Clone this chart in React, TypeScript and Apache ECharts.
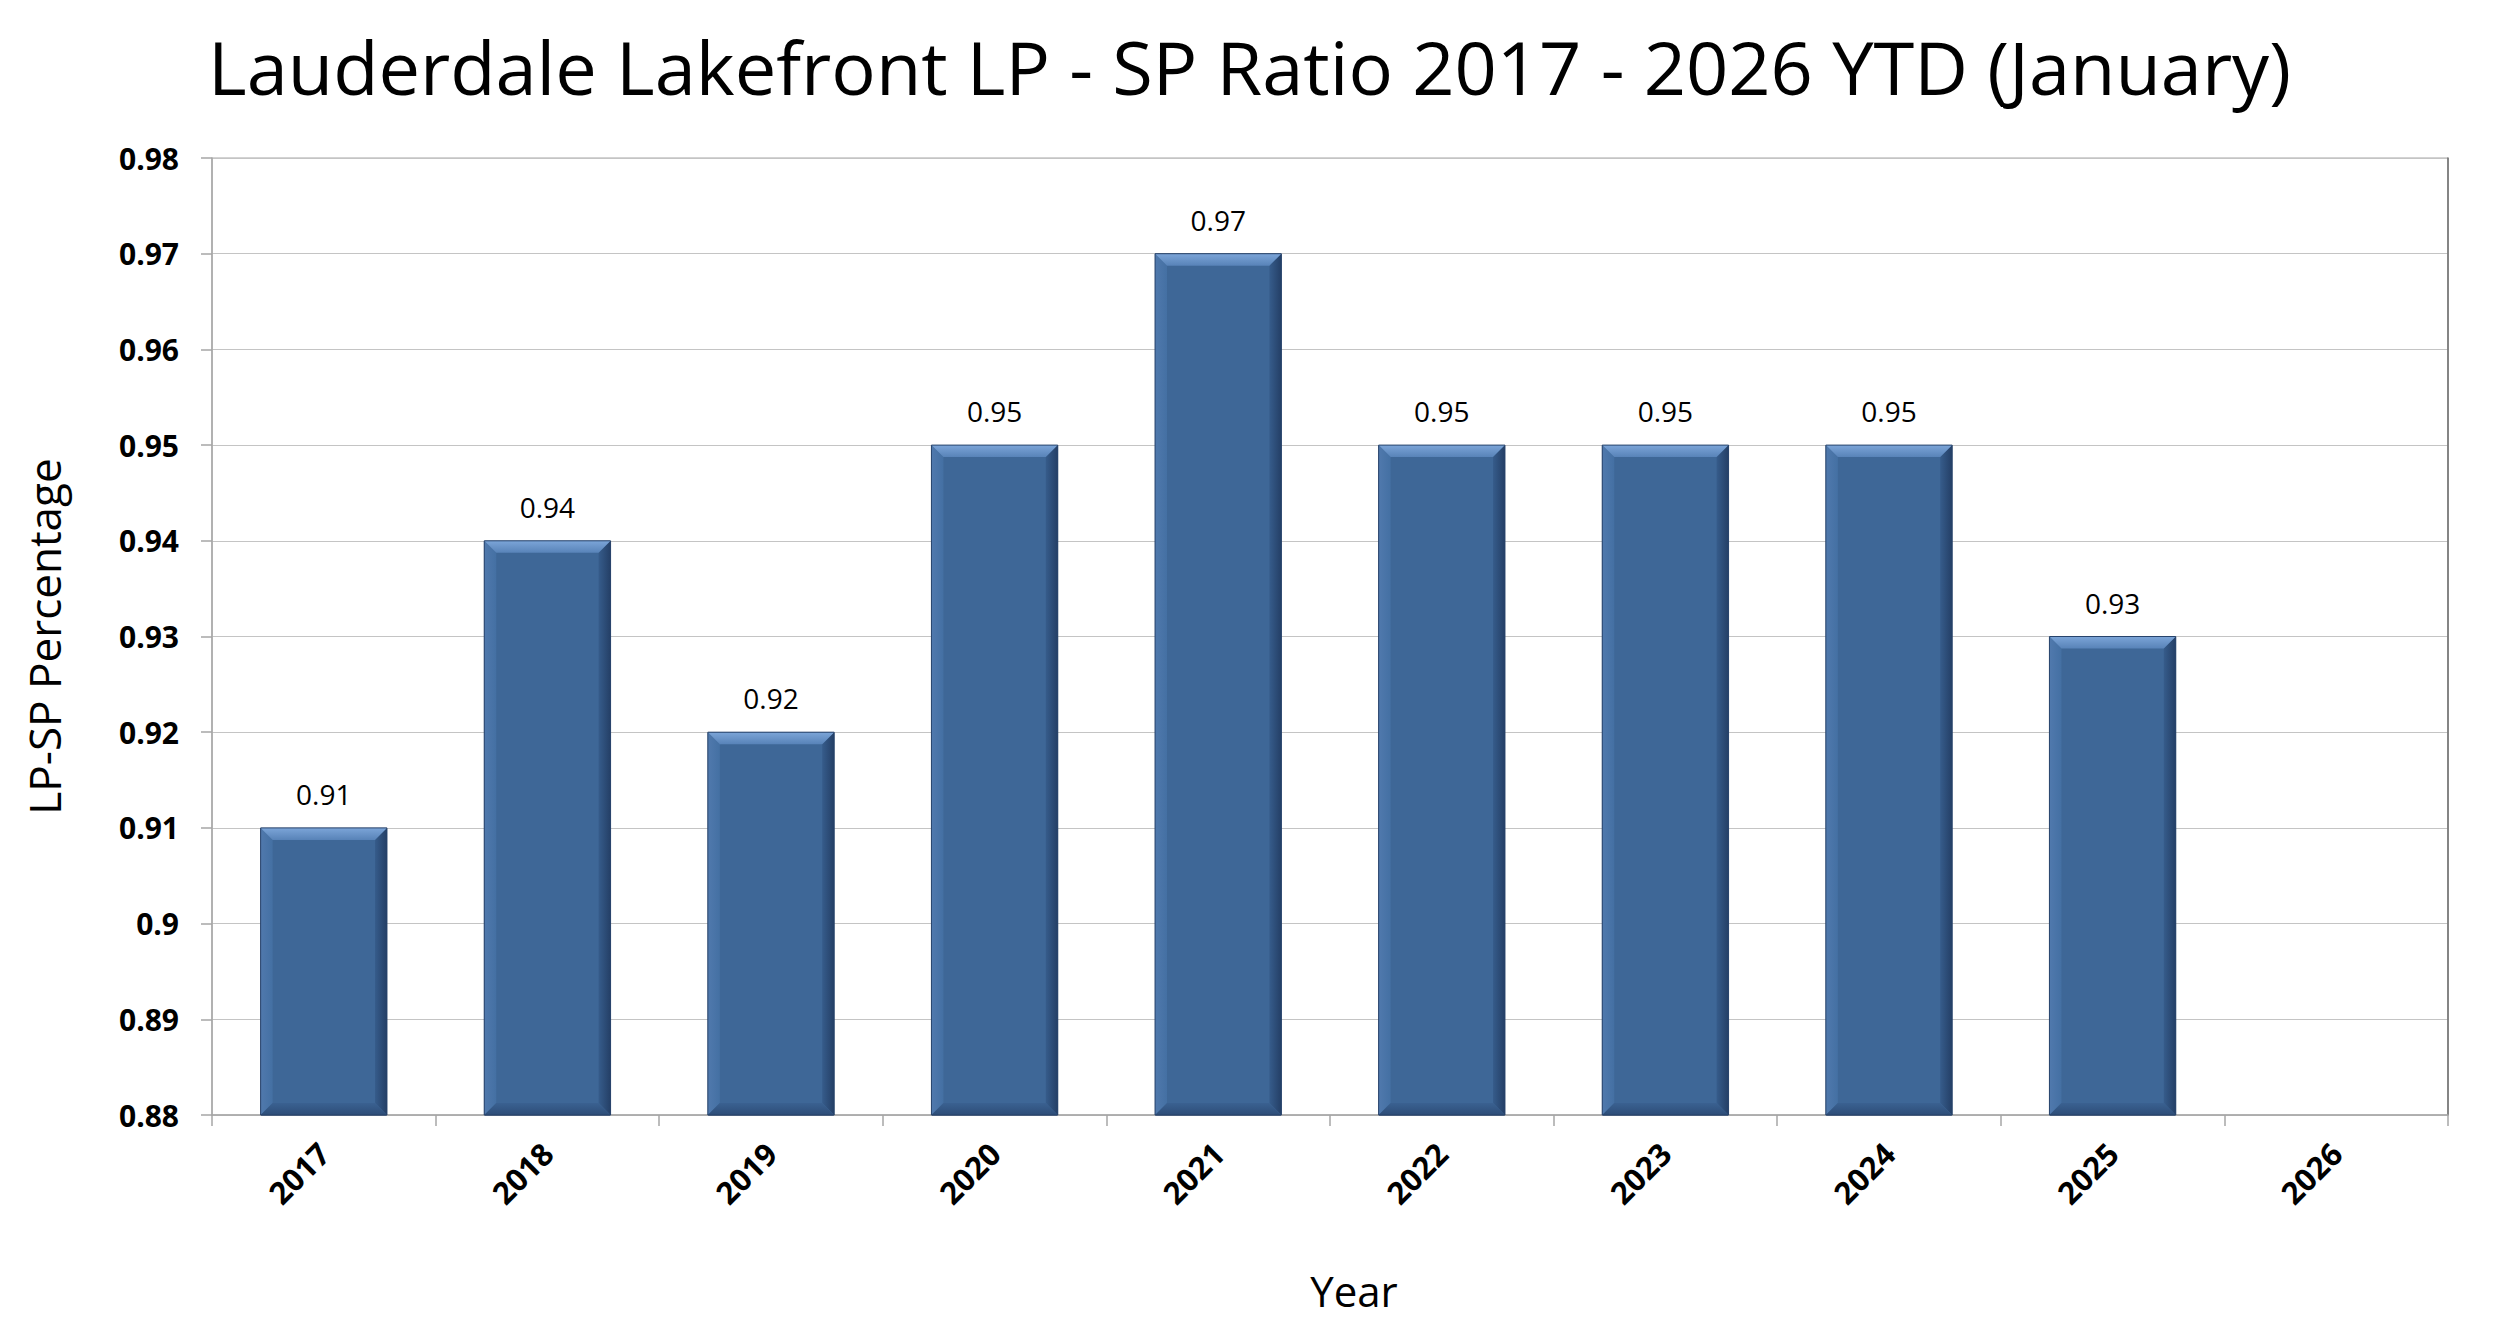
import React, { useEffect, useRef } from "react";
import * as echarts from "echarts";

const years = ["2017", "2018", "2019", "2020", "2021", "2022", "2023", "2024", "2025", "2026"];
const ratios: (number | null)[] = [0.91, 0.94, 0.92, 0.95, 0.97, 0.95, 0.95, 0.95, 0.93, null];
const yMin = 0.88;
const yMax = 0.98;
const yStep = 0.01;
const titleText = "Lauderdale Lakefront LP - SP Ratio 2017 - 2026 YTD (January)";
const xName = "Year";
const yName = "LP-SP Percentage";

const FONT = "'Open Sans', 'Noto Sans', sans-serif";

export default function App() {
  const ref = useRef<HTMLDivElement>(null);

  useEffect(() => {
    if (!ref.current) return;
    const chart = echarts.init(ref.current, null, { renderer: "svg" });
    const BAR_FRACTION = 0.565;
    const BEVEL = 12;

    const bevelData = years.map((y, i) => [i, ratios[i] == null ? NaN : ratios[i]]);

    chart.setOption({
      animation: false,
      backgroundColor: "#ffffff",
      textStyle: { fontFamily: FONT },
      title: {
        text: titleText,
        left: 203,
        top: 24,
        textStyle: { fontFamily: FONT, fontSize: 74, fontWeight: "normal", color: "#000000" },
      },
      grid: {
        left: 212,
        right: 52,
        top: 158,
        bottom: 215,
        show: true,
        borderColor: "#a6a6a6",
        borderWidth: 1,
        backgroundColor: "transparent",
      },
      xAxis: {
        type: "category",
        data: years,
        boundaryGap: true,
        axisLine: { show: true, lineStyle: { color: "#a6a6a6", width: 1.5 } },
        axisTick: { show: true, length: 11, interval: 0, alignWithLabel: false, lineStyle: { color: "#a6a6a6", width: 1.5 } },
        axisLabel: {
          interval: 0,
          rotate: 45,
          fontFamily: FONT,
          fontWeight: "bold",
          fontSize: 31,
          color: "#000000",
          margin: 33,
        },
        splitLine: { show: false },
        name: xName,
        nameLocation: "middle",
        nameGap: 154,
        nameTextStyle: { fontFamily: FONT, fontSize: 42, color: "#000000", padding: [0, 0, 0, 48] },
      },
      yAxis: [
        {
          type: "value",
          min: yMin,
          max: yMax,
          interval: yStep,
          axisLine: { show: true, lineStyle: { color: "#a6a6a6", width: 1.5 } },
          axisTick: { show: true, length: 11, lineStyle: { color: "#a6a6a6", width: 1.5 } },
          axisLabel: {
            fontFamily: FONT,
            fontWeight: "bold",
            fontSize: 30,
            color: "#000000",
            margin: 33,
            formatter: (v: number) => String(Number(v.toFixed(2))),
          },
          splitLine: { show: true, lineStyle: { color: "#c4c4c4", width: 1.2 } },
          name: yName,
          nameLocation: "middle",
          nameGap: 146,
          nameTextStyle: { fontFamily: FONT, fontSize: 44, color: "#000000" },
        },
        {
          type: "value",
          position: "right",
          min: yMin,
          max: yMax,
          interval: yStep,
          axisLine: { show: true, lineStyle: { color: "#6b6b6b", width: 1.5 } },
          axisTick: { show: false },
          axisLabel: { show: false },
          splitLine: { show: false },
        },
      ],
      series: [
        {
          type: "bar",
          data: ratios,
          barWidth: BAR_FRACTION * 100 + "%",
          itemStyle: { color: "#3e6797", borderColor: "#2a4670", borderWidth: 1 },
          label: {
            show: true,
            position: "top",
            distance: 20,
            fontFamily: FONT,
            fontSize: 28,
            color: "#000000",
            formatter: (p: any) => (p.value == null ? "" : Number(p.value).toFixed(2)),
          },
          z: 2,
        },
        {
          type: "custom",
          data: bevelData,
          encode: { x: 0, y: 1 },
          silent: true,
          z: 3,
          renderItem: (params: any, api: any) => {
            const v = api.value(1);
            if (v == null || isNaN(v)) return null;
            const top = api.coord([api.value(0), v]);
            const base = api.coord([api.value(0), yMin]);
            const bw = api.size([1, 0])[0] * BAR_FRACTION;
            const x0 = top[0] - bw / 2;
            const x1 = top[0] + bw / 2;
            const y0 = top[1];
            const y1 = base[1];
            const b = BEVEL;
            return {
              type: "group",
              children: [
                {
                  type: "polygon",
                  shape: { points: [[x0, y0], [x0 + b, y0 + b], [x0 + b, y1 - b], [x0, y1]] },
                  style: {
                    fill: new echarts.graphic.LinearGradient(0, 0, 1, 0, [
                      { offset: 0, color: "#5079ad" },
                      { offset: 1, color: "#4470a3" },
                    ]),
                  },
                },
                {
                  type: "polygon",
                  shape: { points: [[x1, y0], [x1, y1], [x1 - b, y1 - b], [x1 - b, y0 + b]] },
                  style: {
                    fill: new echarts.graphic.LinearGradient(0, 0, 1, 0, [
                      { offset: 0, color: "#365c8b" },
                      { offset: 1, color: "#243f66" },
                    ]),
                  },
                },
                {
                  type: "polygon",
                  shape: { points: [[x0, y1], [x1, y1], [x1 - b, y1 - b], [x0 + b, y1 - b]] },
                  style: {
                    fill: new echarts.graphic.LinearGradient(0, 0, 0, 1, [
                      { offset: 0, color: "#3a6191" },
                      { offset: 1, color: "#2d4d78" },
                    ]),
                  },
                },
                {
                  type: "polygon",
                  shape: { points: [[x0, y0], [x1, y0], [x1 - b, y0 + b], [x0 + b, y0 + b]] },
                  style: {
                    fill: new echarts.graphic.LinearGradient(0, 0, 0, 1, [
                      { offset: 0, color: "#7ca5d8" },
                      { offset: 1, color: "#5883b8" },
                    ]),
                  },
                },
                {
                  type: "rect",
                  shape: { x: x0, y: y0, width: bw, height: y1 - y0 },
                  style: { fill: "none", stroke: "#27436b", lineWidth: 1 },
                },
              ],
            };
          },
        },
      ],
    });

    return () => {
      chart.dispose();
    };
  }, []);

  return (
    <div
      ref={ref}
      style={{ position: "fixed", left: 0, top: 0, width: "2500px", height: "1330px", background: "#ffffff" }}
    />
  );
}
